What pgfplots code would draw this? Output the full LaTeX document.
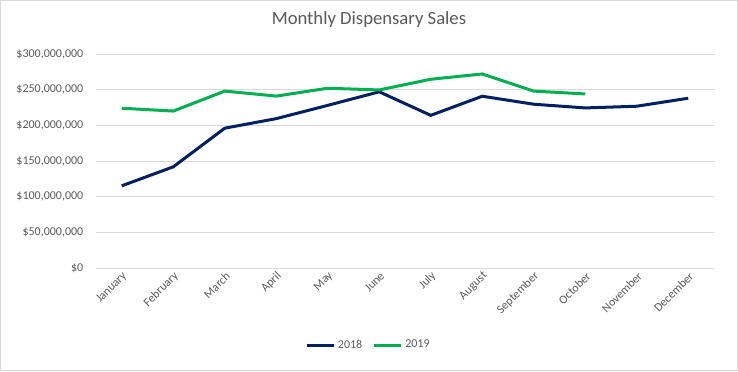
\documentclass[border=0pt]{standalone}
\usepackage{fontspec}
\setmainfont{Carlito}
\usepackage{pgfplots}
\pgfplotsset{compat=1.18}
\definecolor{navy18}{HTML}{002060}
\definecolor{green19}{HTML}{00B050}
\definecolor{gridgray}{HTML}{D9D9D9}
\definecolor{textgray}{HTML}{595959}
\begin{document}
\begin{tikzpicture}
\useasboundingbox (-72pt,-77.25pt) rectangle (481.5pt,201pt);
\draw[gridgray, line width=0.75pt] (-71.4pt,-76.6pt) rectangle (480.9pt,200.4pt);
\begin{axis}[
  scale only axis,
  width=463.5pt, height=160.5pt,
  xmin=-0.5, xmax=11.5,
  ymin=0, ymax=300000000,
  xtick={0,...,11},
  xticklabels={January,February,March,April,May,June,July,August,September,October,November,December},
  ytick={0,50000000,100000000,150000000,200000000,250000000,300000000},
  yticklabels={{\$0},{\$50,000,000},{\$100,000,000},{\$150,000,000},{\$200,000,000},{\$250,000,000},{\$300,000,000}},
  scaled y ticks=false,
  major tick length=0pt,
  axis line style={draw=none},
  ymajorgrids,
  grid style={gridgray, line width=0.75pt},
  tick label style={font=\fontsize{9}{11}\selectfont, text=textgray},
  yticklabel style={xshift=-6pt},
  xticklabel style={rotate=45, anchor=east, xshift=2pt, yshift=-5pt},
  title={Monthly Dispensary Sales},
  title style={at={(0.4417,1.126)}, anchor=center, font=\fontsize{14}{16}\selectfont, text=textgray},
  legend style={at={(0.4417,-0.36)}, anchor=center, draw=none, legend columns=2,
    font=\fontsize{9}{11}\selectfont, text=textgray,
    /tikz/every even column/.append style={column sep=6pt}},
  legend image code/.code={\draw[#1] (0pt,0pt) -- (20pt,0pt);},
]
\addplot[navy18, line width=2.25pt] coordinates {
(0,115200000) (1,141800000) (2,196000000) (3,209400000) (4,228000000) (5,247000000)
(6,214000000) (7,240800000) (8,229600000) (9,224400000) (10,226800000) (11,238000000)};
\addlegendentry{2018}
\addplot[green19, line width=2.25pt] coordinates {
(0,224000000) (1,220000000) (2,248000000) (3,241000000) (4,252000000) (5,249600000)
(6,264600000) (7,272000000) (8,248000000) (9,244000000)};
\addlegendentry{2019}
\end{axis}
\end{tikzpicture}
\end{document}
